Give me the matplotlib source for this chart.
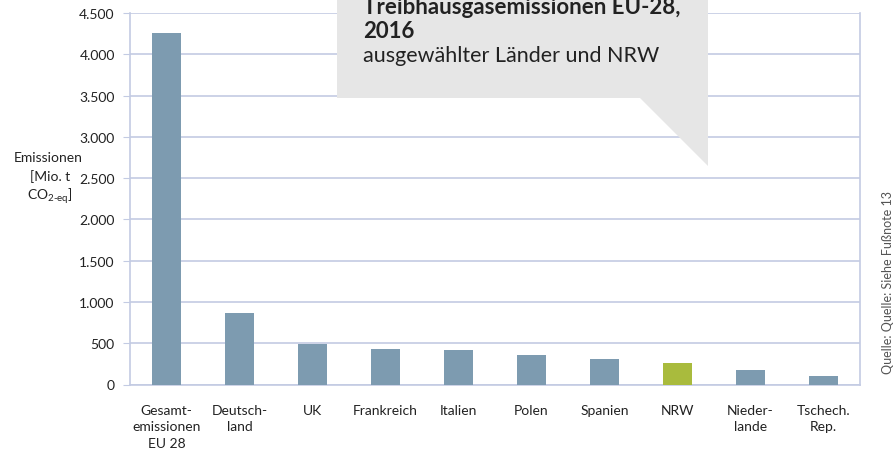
import matplotlib
matplotlib.use("Agg")
import matplotlib.pyplot as plt
from matplotlib.patches import Polygon

categories = ["Gesamt-\nemissionen\nEU 28", "Deutsch-\nland", "UK", "Frankreich", "Italien",
              "Polen", "Spanien", "NRW", "Nieder-\nlande", "Tschech.\nRep."]
values = [4260, 868, 493, 432, 420, 355, 306, 258, 173, 100]
highlight = "NRW"
yticks = [0, 500, 1000, 1500, 2000, 2500, 3000, 3500, 4000, 4500]
ytick_labels = ["0", "500", "1.000", "1.500", "2.000", "2.500", "3.000", "3.500", "4.000", "4.500"]

plt.rcParams['font.family'] = ['Lato', 'DejaVu Sans']

W, H = 895, 452
fig = plt.figure(figsize=(W / 100, H / 100), dpi=100)
ax = fig.add_axes([130 / W, 1 - 385.5 / H, (860 - 130) / W, (385.5 - 14) / H])

bar_col = "#7d9bb0"
nrw_col = "#a9bb3d"
grid_col = "#c3cbe3"
colors = [nrw_col if c.startswith(highlight) else bar_col for c in categories]
x = list(range(len(categories)))
ax.bar(x, values, width=0.4, color=colors, zorder=3)

ax.set_xlim(-0.5, len(categories) - 0.5)
ax.set_ylim(0, 4500)
ax.set_yticks(yticks)
ax.set_yticklabels(ytick_labels, fontsize=10, color="#222222")
ax.set_xticks(x)
ax.set_xticklabels(categories, fontsize=10, color="#222222", linespacing=1.45)
ax.tick_params(axis="x", length=0, pad=14)
ax.tick_params(axis="y", length=5, color=grid_col, pad=6)
ax.yaxis.grid(True, color=grid_col, linewidth=1.2, zorder=0)
ax.set_axisbelow(True)
ax.spines["top"].set_visible(False)
for s in ["bottom", "left", "right"]:
    ax.spines[s].set_color(grid_col)
    ax.spines[s].set_linewidth(1.2)

# y-axis label
lab_kw = dict(ha="center", va="center", fontsize=10, color="#222222")
fig.text(48 / W, 1 - 158 / H, "Emissionen", **lab_kw)
fig.text(50 / W, 1 - 177 / H, "[Mio. t", **lab_kw)
fig.text(50 / W, 1 - 196 / H, "CO$_{\\mathregular{2\u2010eq}}$]", **lab_kw)

# callout box
def px(xp, yp):
    return (xp / W, 1 - yp / H)

poly = Polygon([px(337, 0), px(708, 0), px(708, 167), px(640, 99), px(337, 99)],
               closed=True, transform=fig.transFigure, facecolor="#e6e6e6", edgecolor="none", zorder=10)
fig.add_artist(poly)
fig.text(363 / W, 1 - 8 / H, "Treibhausgasemissionen EU-28,", ha="left", va="center",
         fontsize=16, fontweight="bold", color="#222222", zorder=11)
fig.text(363 / W, 1 - 32 / H, "2016", ha="left", va="center",
         fontsize=16, fontweight="bold", color="#222222", zorder=11)
fig.text(363 / W, 1 - 56 / H, "ausgewählter Länder und NRW", ha="left", va="center",
         fontsize=15.5, color="#222222", zorder=11)

# source
fig.text(888 / W, 1 - 283 / H, "Quelle: Quelle: Siehe Fußnote 13", rotation=90, ha="center", va="center",
         fontsize=9, color="#555555")

fig.savefig("out.png", dpi=100)
